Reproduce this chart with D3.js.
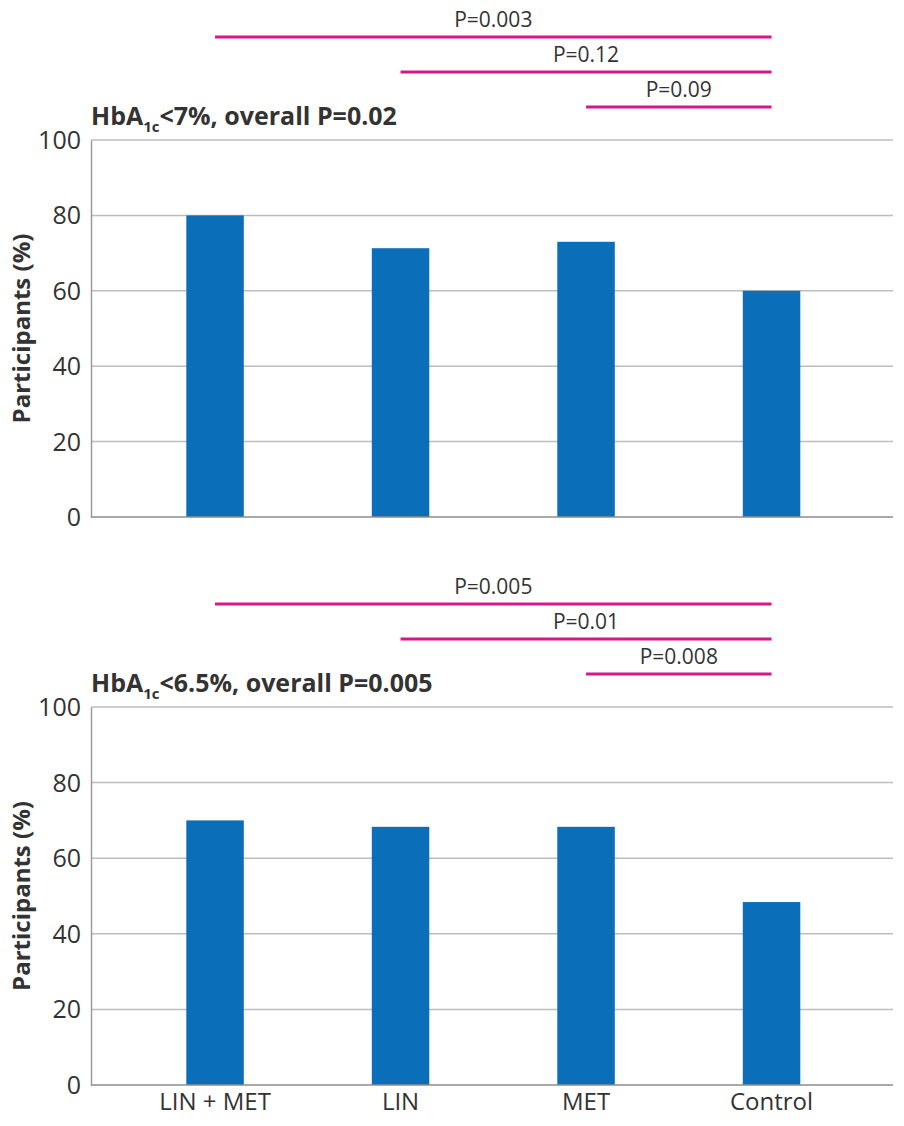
<!DOCTYPE html>
<html><head><meta charset="utf-8">
<script src="https://cdn.jsdelivr.net/npm/d3@7"></script>
<style>body{margin:0;background:#fff}svg{display:block}text{font-family:"Open Sans","Noto Sans",sans-serif}</style>
</head><body><svg id="c" width="904" height="1126"></svg>
<script>
const categories = ["LIN + MET", "LIN", "MET", "Control"];
const valuesHbA7 = [80, 71.3, 73, 60];
const valuesHbA65 = [70, 68.3, 68.3, 48.4];
const yTicks = [0, 20, 40, 60, 80, 100];
const pTop = [{from:"LIN + MET", to:"Control", label:"P=0.003"},{from:"LIN", to:"Control", label:"P=0.12"},{from:"MET", to:"Control", label:"P=0.09"}];
const pBottom = [{from:"LIN + MET", to:"Control", label:"P=0.005"},{from:"LIN", to:"Control", label:"P=0.01"},{from:"MET", to:"Control", label:"P=0.008"}];
const titleTop = {thr:"<7%", overall:"0.02"};
const titleBottom = {thr:"<6.5%", overall:"0.005"};

const svg = d3.select("#c");
const x = d3.scaleBand().domain(categories).range([122.3, 864.3]).paddingInner(0.69).paddingOuter(0.345);
const left = 91, right = 893;

function panel(y0, y100, values, pvals, title, showX){
  const y = d3.scaleLinear().domain([0,100]).range([y0, y100]);
  const g = svg.append("g");
  g.selectAll("line.grid").data(yTicks.filter(d=>d>0)).join("line")
    .attr("x1", left).attr("x2", right).attr("y1", d=>y(d)).attr("y2", d=>y(d))
    .attr("stroke", "#bdbdbd").attr("stroke-width", 1.5);
  const ya = g.append("g").attr("transform", `translate(${left},0)`).call(d3.axisLeft(y).tickValues(yTicks).tickSize(0).tickPadding(10));
  ya.select(".domain").attr("stroke", "#9a9a9a").attr("stroke-width", 1.5);
  ya.selectAll("text").attr("font-size", 25).attr("fill", "#333").attr("dy", "0.34em");
  g.selectAll("rect").data(values).join("rect")
    .attr("x", (d,i)=>x(categories[i])).attr("width", x.bandwidth())
    .attr("y", d=>y(d)).attr("height", d=>y0 - y(d)).attr("fill", "#0a6fb8");
  g.append("line").attr("x1", left).attr("x2", right).attr("y1", y0).attr("y2", y0).attr("stroke", "#8c8c8c").attr("stroke-width", 1.5);
  if (showX){
    const xa = g.append("g").attr("transform", `translate(0,${y0})`).call(d3.axisBottom(x).tickSize(0).tickPadding(8));
    xa.select(".domain").remove();
    xa.selectAll("text").attr("font-size", 24).attr("fill", "#333").attr("dy", "0.71em");
  }
  g.append("text").attr("transform", `translate(30,${(y0+y100)/2}) rotate(-90)`)
    .attr("text-anchor", "middle").attr("font-size", 24).attr("font-weight", 700).attr("fill", "#333")
    .text("Participants (%)");
  const t = g.append("text").attr("x", left).attr("y", y100 - 15).attr("font-size", 25).attr("font-weight", 700).attr("fill", "#333");
  t.append("tspan").text("HbA");
  t.append("tspan").attr("font-size", 15).attr("dy", 7).text("1c");
  t.append("tspan").attr("dy", -7).text(`${title.thr}, overall P=${title.overall}`);
  pvals.forEach((p, i) => {
    const ly = y100 - 103 + i*35;
    const x1 = x(p.from) + x.bandwidth()/2, x2 = x(p.to) + x.bandwidth()/2;
    g.append("line").attr("x1", x1).attr("x2", x2).attr("y1", ly).attr("y2", ly).attr("stroke", "#d6168c").attr("stroke-width", 3);
    g.append("text").attr("x", (x1+x2)/2).attr("y", ly - 10).attr("text-anchor", "middle").attr("font-size", 21).attr("fill", "#333").text(p.label);
  });
}
panel(517, 140, valuesHbA7, pTop, titleTop, false);
panel(1085, 707, valuesHbA65, pBottom, titleBottom, true);
</script></body></html>
